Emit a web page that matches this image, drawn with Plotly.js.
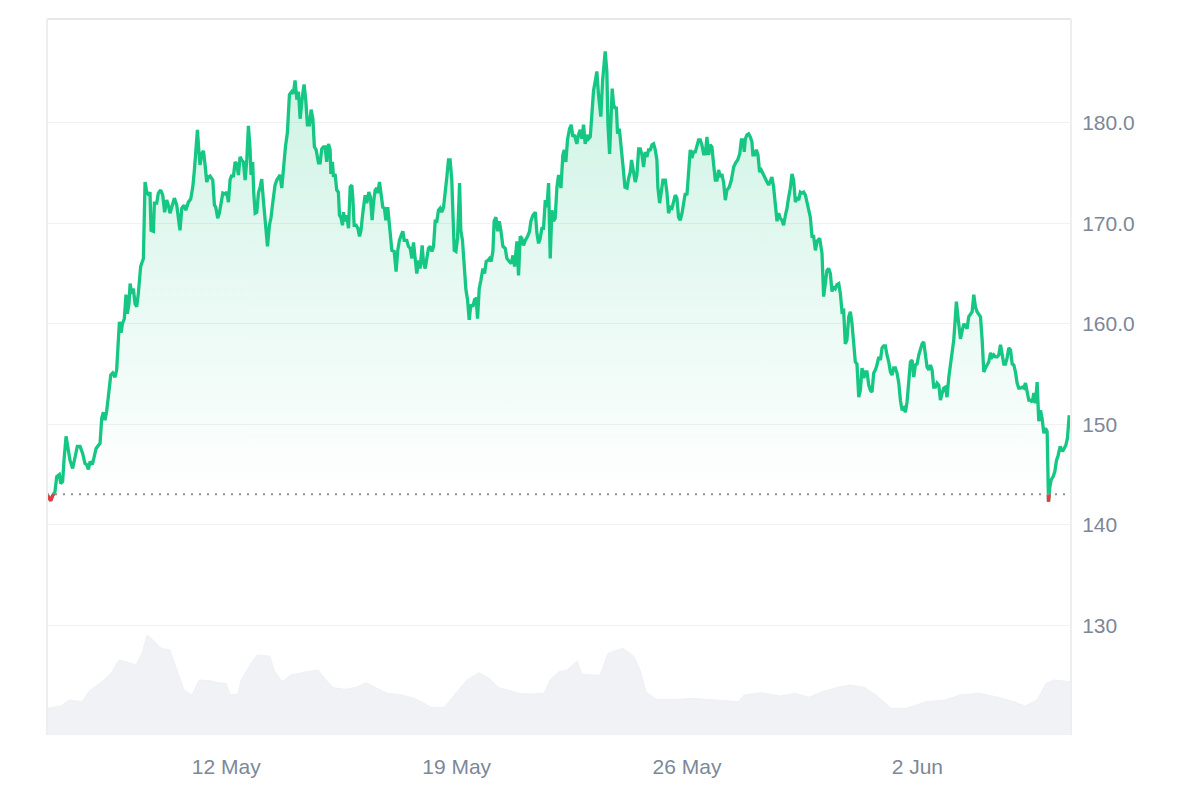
<!DOCTYPE html>
<html>
<head>
<meta charset="utf-8">
<script src="https://cdn.plot.ly/plotly-3.0.1.min.js"></script>
<style>
  html, body { margin: 0; padding: 0; background: #ffffff; }
  #chart { width: 1200px; height: 800px; }
</style>
</head>
<body>
<div id="chart"></div>
<script>
// ---- Data ----
const startTime = '2024-05-06T13:15:00Z';
const basePrice = 143.03;           // opening price (dotted reference line)
const priceRange = [119.09, 190.32];
const rangeHours = 746.8;

const yTickValues = [130, 140, 150, 160, 170, 180];
const yTickLabels = ['130', '140', '150', '160.0', '170.0', '180.0'];
const xTickDates  = ['2024-05-12', '2024-05-19', '2024-05-26', '2024-06-02'];
const xTickLabels = ['12 May', '19 May', '26 May', '2 Jun'];

// hours since startTime
const priceHours = [
  0, 1.5, 2.7, 4.1, 5.8, 7.1, 9.0, 10.0, 11.4, 12.4, 13.9, 15.6, 16.8, 18.7, 20.4, 22.1, 24.1, 26.0, 27.7, 28.9,
  30.2, 31.4, 33.1, 34.3, 35.8, 37.5, 38.7, 39.9, 41.1, 42.3, 43.5, 44.7, 46.5, 47.9, 49.6, 50.8, 52.0, 52.8, 54.0, 55.0,
  56.4, 57.6, 58.6, 59.8, 60.6, 61.8, 63.0, 64.2, 65.4, 66.6, 68.3, 70.3, 71.5, 72.7, 74.2, 75.1, 75.9, 77.6, 78.3, 80.0,
  81.2, 82.9, 84.4, 85.8, 87.3, 88.5, 89.7, 91.2, 92.9, 94.6, 95.8, 97.0, 98.3, 100.0, 101.2, 103.1, 104.8, 106.3, 107.5, 108.7,
  109.7, 110.7, 111.6, 112.8, 114.1, 115.3, 116.5, 117.7, 118.9, 120.9, 122.1, 123.1, 124.5, 125.7, 127.0, 128.2, 129.9, 131.1, 132.3, 133.5,
  134.7, 135.9, 137.2, 138.4, 139.6, 140.8, 142.0, 143.2, 144.5, 145.7, 146.9, 148.1, 148.8, 150.0, 150.8, 151.8, 153.0, 154.2, 155.4, 156.6,
  157.8, 159.1, 160.8, 162.2, 163.4, 164.6, 166.3, 167.6, 168.8, 170.0, 171.2, 172.4, 173.9, 175.3, 176.8, 178.5, 179.7, 180.9, 182.2, 183.4,
  184.6, 186.5, 187.5, 188.7, 189.9, 191.4, 192.6, 193.9, 195.0, 196.3, 198.0, 199.2, 200.4, 201.6, 202.8, 204.0, 205.3, 206.5, 207.0, 208.2,
  208.9, 210.1, 211.3, 212.5, 213.3, 214.3, 215.5, 216.2, 217.4, 218.6, 219.9, 221.1, 222.3, 223.0, 224.0, 225.4, 226.7, 227.9, 228.9, 230.3,
  232.0, 233.2, 234.7, 235.9, 237.1, 238.1, 239.3, 240.5, 241.2, 242.5, 243.4, 244.9, 246.1, 247.1, 248.5, 249.5, 250.7, 251.5, 253.2, 254.6,
  255.8, 257.0, 258.3, 259.5, 260.5, 262.4, 263.6, 264.9, 266.1, 267.3, 268.5, 269.7, 270.9, 272.1, 273.6, 274.6, 275.8, 277.0, 278.2, 279.4,
  280.7, 281.9, 283.1, 284.3, 285.5, 286.7, 287.9, 289.2, 290.4, 291.6, 292.8, 294.0, 295.2, 296.0, 297.0, 298.2, 299.4, 300.9, 301.8, 303.0,
  304.3, 305.5, 306.7, 307.9, 309.1, 310.6, 311.8, 313.0, 314.0, 315.2, 316.4, 317.9, 319.1, 320.3, 321.5, 322.7, 323.9, 325.2, 326.1, 327.4,
  328.6, 329.8, 331.0, 332.5, 334.2, 335.4, 337.1, 338.6, 339.8, 341.0, 342.7, 343.9, 345.1, 346.3, 347.5, 348.8, 350.5, 351.9, 352.9, 354.4,
  356.1, 357.3, 358.5, 359.7, 360.9, 362.1, 363.4, 364.6, 365.8, 367.0, 368.2, 369.4, 370.6, 371.9, 373.1, 374.8, 376.2, 377.2, 378.4, 379.6,
  381.1, 382.3, 383.5, 384.7, 386.4, 387.6, 388.9, 390.1, 391.3, 392.5, 393.7, 394.9, 396.2, 397.4, 398.6, 399.8, 401.0, 402.2, 403.9, 405.2,
  406.4, 407.1, 408.3, 409.1, 410.3, 411.5, 412.2, 413.2, 414.4, 415.2, 416.1, 417.4, 418.6, 420.0, 421.5, 423.0, 424.2, 425.4, 426.3, 427.8,
  429.0, 430.2, 431.5, 432.7, 433.9, 435.1, 436.3, 437.5, 438.7, 440.0, 441.2, 442.4, 443.6, 444.8, 445.5, 446.8, 448.0, 449.2, 450.9, 452.1,
  453.3, 454.5, 455.8, 457.0, 458.2, 459.4, 460.6, 461.8, 463.1, 464.3, 465.5, 466.7, 467.9, 469.1, 470.3, 471.6, 472.8, 474.0, 475.2, 476.4,
  477.6, 478.9, 480.1, 481.3, 482.5, 483.7, 484.9, 486.2, 487.4, 488.6, 489.8, 491.0, 492.2, 493.5, 494.7, 495.9, 497.6, 499.1, 500.8, 502.2,
  503.7, 505.2, 506.4, 507.6, 508.5, 509.3, 510.5, 511.7, 512.9, 514.1, 514.8, 516.1, 517.3, 518.5, 519.7, 520.9, 522.1, 523.8, 525.1, 526.3,
  527.5, 528.7, 529.9, 531.2, 532.4, 533.6, 534.8, 536.0, 537.2, 538.5, 539.7, 540.9, 542.1, 543.3, 544.5, 545.8, 547.0, 548.2, 549.4, 550.6,
  551.8, 553.1, 554.3, 555.5, 556.7, 557.9, 559.1, 560.4, 561.6, 563.5, 565.2, 566.4, 567.6, 568.8, 570.1, 571.3, 572.5, 573.7, 574.9, 576.1,
  577.4, 578.6, 579.8, 581.0, 582.2, 583.4, 584.7, 585.9, 587.1, 588.3, 589.5, 590.7, 592.0, 593.2, 594.4, 595.6, 596.8, 598.0, 599.3, 600.5,
  601.7, 602.9, 604.1, 605.3, 606.6, 607.8, 609.0, 610.2, 611.4, 612.6, 613.9, 615.1, 616.3, 617.5, 618.7, 619.9, 621.2, 622.4, 623.6, 624.8,
  626.0, 627.2, 628.5, 629.7, 630.9, 632.1, 633.3, 634.5, 635.8, 637.0, 638.2, 639.4, 640.6, 641.8, 643.1, 644.3, 645.5, 646.7, 647.9, 649.1,
  650.4, 651.6, 652.8, 654.0, 655.2, 656.4, 657.7, 658.9, 660.1, 661.3, 662.5, 663.2, 664.5, 666.2, 667.4, 668.6, 669.8, 671.0, 672.2, 673.5,
  674.7, 675.9, 677.1, 678.3, 679.5, 680.8, 682.0, 683.2, 684.4, 685.6, 686.8, 688.1, 689.3, 690.5, 691.7, 692.9, 694.1, 695.4, 696.6, 697.8,
  699.0, 700.2, 701.4, 702.7, 703.9, 705.1, 706.3, 707.5, 708.7, 710.0, 711.2, 712.4, 713.6, 714.8, 716.0, 717.3, 718.5, 719.7, 720.9, 722.1,
  723.3, 724.6, 725.8, 727.0, 728.2, 729.4, 730.4, 731.4, 732.4, 733.8, 735.0, 736.2, 737.4, 738.9, 740.6, 741.8, 743.0, 744.2, 745.5
];

// USD
const priceUsd = [
  143.03, 142.6, 142.4, 142.9, 143.3, 144.8, 145.0, 144.1, 144.3, 146.4, 148.8, 147.4, 146.4, 145.6, 146.8, 147.8, 147.8, 147.1, 146.1, 146.0,
  145.5, 146.3, 146.0, 146.8, 147.6, 147.9, 148.1, 150.6, 151.2, 150.4, 151.3, 152.7, 154.9, 155.1, 154.7, 155.4, 158.4, 160.2, 159.1, 160.0,
  160.5, 162.9, 161.0, 162.0, 164.0, 163.0, 163.5, 162.0, 161.7, 163.0, 165.7, 166.5, 174.1, 173.1, 172.8, 173.1, 169.3, 169.2, 172.0, 172.0,
  173.0, 173.3, 172.8, 171.1, 172.3, 171.8, 171.0, 171.6, 172.5, 171.8, 170.8, 169.3, 171.5, 171.8, 171.3, 172.1, 172.4, 173.6, 175.3, 178.3,
  179.3, 177.3, 175.8, 176.9, 177.2, 175.8, 174.1, 174.6, 174.7, 174.3, 171.8, 171.6, 170.5, 171.0, 172.1, 173.0, 172.9, 173.1, 172.1, 174.3,
  174.8, 174.6, 176.1, 175.9, 174.8, 176.6, 176.3, 176.1, 174.3, 176.3, 179.7, 177.4, 174.8, 176.1, 173.0, 171.0, 171.1, 173.0, 173.6, 174.4,
  172.3, 170.6, 167.7, 169.8, 170.6, 172.0, 173.8, 174.3, 174.6, 174.8, 173.5, 175.6, 177.6, 179.0, 182.8, 183.1, 182.9, 184.2, 182.3, 183.1,
  180.4, 182.9, 183.8, 182.3, 179.8, 179.8, 181.3, 180.4, 177.6, 177.3, 176.0, 176.0, 177.4, 177.6, 177.6, 176.1, 177.9, 177.3, 174.9, 176.1,
  174.6, 174.9, 173.3, 173.1, 170.8, 170.6, 169.8, 171.1, 170.2, 170.8, 169.5, 173.6, 173.8, 172.6, 169.8, 169.8, 169.5, 168.7, 169.2, 171.0,
  172.8, 172.0, 173.1, 172.6, 170.3, 172.0, 173.3, 173.5, 173.0, 174.1, 173.0, 171.6, 171.5, 170.3, 171.6, 170.2, 169.0, 167.3, 167.2, 165.2,
  167.3, 168.3, 168.8, 169.2, 168.3, 168.3, 167.7, 167.5, 166.5, 168.1, 166.5, 165.0, 166.3, 165.5, 167.8, 166.1, 165.5, 166.3, 167.5, 167.7,
  167.2, 167.7, 170.2, 170.2, 171.3, 171.5, 171.1, 171.6, 172.8, 174.6, 176.3, 176.3, 174.3, 170.0, 167.3, 167.2, 168.5, 174.0, 169.3, 168.3,
  165.7, 163.4, 162.4, 160.4, 161.9, 161.7, 162.4, 162.5, 160.5, 163.5, 164.3, 165.5, 165.0, 166.2, 166.3, 166.5, 166.2, 167.2, 170.2, 170.6,
  169.2, 170.2, 169.3, 167.7, 167.5, 166.5, 166.2, 166.0, 166.8, 165.7, 168.2, 164.8, 168.7, 168.5, 167.8, 168.3, 168.7, 169.2, 170.2, 170.8,
  171.1, 169.0, 168.0, 168.5, 169.5, 169.5, 172.3, 171.6, 174.0, 166.5, 171.3, 170.2, 170.5, 173.6, 174.8, 173.5, 176.8, 177.3, 176.1, 178.3,
  179.4, 179.8, 178.6, 178.8, 177.9, 178.8, 179.3, 178.4, 179.8, 177.9, 178.8, 178.4, 178.6, 180.8, 183.2, 184.1, 185.1, 182.8, 180.6, 184.2,
  186.4, 187.1, 185.1, 179.8, 176.9, 180.6, 183.4, 181.8, 181.4, 181.6, 178.9, 179.4, 177.3, 175.8, 173.6, 173.5, 174.5, 175.1, 176.3, 175.0,
  174.1, 174.8, 177.4, 177.4, 176.8, 175.6, 177.1, 176.6, 177.3, 177.3, 177.8, 177.9, 177.3, 176.3, 173.6, 172.0, 173.3, 174.3, 174.3, 173.1,
  171.0, 171.6, 171.5, 172.3, 172.8, 172.5, 170.6, 170.3, 171.0, 172.0, 173.0, 172.8, 175.5, 177.3, 176.5, 177.1, 177.1, 177.9, 178.3, 178.3,
  177.8, 176.9, 176.9, 178.6, 176.8, 177.8, 177.6, 175.8, 174.3, 174.3, 175.3, 174.6, 174.9, 174.0, 172.3, 173.3, 173.6, 174.3, 175.6, 176.0,
  176.3, 176.9, 178.3, 178.3, 177.1, 178.4, 178.8, 178.9, 178.6, 178.1, 176.8, 176.8, 177.3, 176.8, 175.1, 175.3, 174.9, 174.5, 174.1, 173.8,
  174.3, 174.6, 173.6, 171.6, 170.2, 171.0, 170.5, 170.3, 169.8, 170.8, 171.5, 172.6, 173.5, 174.9, 174.3, 172.1, 172.6, 172.3, 173.1, 173.0,
  173.1, 172.8, 172.0, 171.1, 170.6, 168.7, 168.7, 167.3, 168.2, 168.5, 167.0, 162.7, 164.0, 165.3, 165.5, 165.0, 163.2, 163.7, 163.5, 163.9,
  164.0, 163.0, 161.2, 161.3, 158.0, 158.4, 160.7, 161.2, 160.0, 158.0, 156.2, 156.0, 152.7, 153.4, 155.6, 154.6, 155.2, 155.2, 153.9, 153.4,
  153.2, 155.1, 155.4, 155.9, 156.7, 156.4, 157.6, 157.8, 157.8, 156.9, 156.2, 155.2, 154.9, 155.6, 155.6, 155.1, 154.1, 152.4, 151.4, 151.6,
  151.2, 152.2, 154.2, 156.2, 156.4, 154.7, 155.9, 156.0, 156.9, 157.6, 158.0, 158.2, 157.2, 155.7, 155.4, 155.9, 155.4, 153.7, 153.7, 154.1,
  153.9, 152.4, 153.1, 153.6, 153.7, 152.7, 154.7, 155.9, 156.7, 158.4, 160.7, 162.2, 160.5, 158.5, 159.3, 160.0, 159.8, 159.5, 160.7, 160.9,
  161.2, 162.9, 161.7, 161.2, 161.0, 160.7, 158.4, 155.2, 155.6, 155.9, 156.2, 157.1, 156.7, 156.9, 156.7, 156.7, 156.9, 157.9, 156.7, 156.0,
  156.0, 156.6, 157.6, 157.4, 156.0, 155.9, 155.2, 154.1, 153.6, 153.6, 153.7, 153.6, 154.1, 153.1, 152.4, 152.4, 152.2, 153.1, 152.1, 154.2,
  150.3, 151.4, 150.5, 149.1, 149.6, 149.3, 142.3, 143.8, 144.5, 144.8, 145.3, 146.4, 146.9, 147.8, 147.3, 147.6, 147.9, 148.6, 150.9
];

// trading volume (relative level, hours since startTime)
const volumeHours = [
  0, 10.2, 16.0, 25.5, 31.4, 38.7, 46.7, 52.5, 57.6, 64.9, 69.3, 72.9, 77.3, 83.2, 89.7, 95.6, 99.9, 105.8, 110.9, 118.2,
  124.7, 130.6, 133.5, 139.3, 141.5, 148.8, 153.2, 162.7, 165.6, 171.4, 178.0, 189.6, 197.7, 203.5, 208.6, 217.4, 225.4, 232.7, 240.7, 248.0,
  258.9, 267.7, 272.8, 280.1, 289.6, 298.3, 306.3, 315.1, 322.4, 329.0, 337.7, 344.3, 353.0, 362.5, 366.9, 373.5, 379.3, 386.6, 390.2, 397.5,
  403.4, 409.2, 420.1, 428.2, 432.5, 436.9, 444.2, 459.5, 470.5, 487.2, 504.0, 508.4, 520.8, 534.7, 545.6, 555.8, 565.3, 577.0, 585.0, 595.9,
  604.7, 615.6, 626.6, 641.2, 655.0, 666.0, 679.8, 693.7, 705.3, 713.4, 722.1, 728.7, 734.5, 746.8
];
const volumeLevel = [
  26.7, 29, 35, 33.3, 45, 51.7, 61.7, 75, 73.3, 70, 81.7, 100, 95, 86.7, 85, 61.7, 45, 40, 55, 54.3,
  52.3, 51.7, 40, 41, 55, 71.7, 80, 79, 65, 53.3, 60, 63.3, 65, 55, 47.3, 45.7, 47.7, 52.3, 46.7, 41.7,
  40, 36.7, 33.3, 27.7, 27.7, 41.7, 55, 62.3, 56.7, 47.7, 44.3, 41.7, 41, 41.7, 55, 63.3, 65, 74, 61, 60,
  60, 81.7, 86.7, 78.3, 65, 43.3, 35.7, 35.7, 36.7, 35, 33.3, 40, 42.3, 39, 41.7, 37.7, 43.3, 47.7, 50, 47.7,
  40, 26.7, 26.7, 33.3, 35, 40, 41.7, 37.7, 33.3, 29, 35, 51.7, 55, 53.3
];

// ---- Rendering ----
const startMs = Date.parse(startTime);
function toDate(h) {
  return new Date(startMs + h * 3600000).toISOString().slice(0, 19).replace('T', ' ');
}
const px = priceHours.map(toDate);
const vx = volumeHours.map(toDate);
const xStart = toDate(0), xEnd = toDate(rangeHours);

const green = '#16c784';
const red = '#ea3943';
const font = '"Liberation Sans", Arial, Helvetica, sans-serif';
const labelColor = '#7d8799';

const traces = [
  { // volume
    x: vx, y: volumeLevel, xaxis: 'x', yaxis: 'y2', type: 'scatter', mode: 'lines',
    line: { width: 1, color: '#eef1f5' }, fill: 'tozeroy', fillcolor: '#f0f2f6',
    hoverinfo: 'skip', showlegend: false
  },
  { // baseline for fill
    x: [xStart, xEnd], y: [basePrice, basePrice], xaxis: 'x', yaxis: 'y', type: 'scatter', mode: 'lines',
    line: { width: 0, color: 'rgba(0,0,0,0)' }, hoverinfo: 'skip', showlegend: false
  },
  { // price (green)
    x: px, y: priceUsd, xaxis: 'x', yaxis: 'y', type: 'scatter', mode: 'lines',
    line: { width: 3.3, color: green }, fill: 'tonexty',
    fillgradient: {
      type: 'vertical', start: basePrice, stop: 187.5,
      colorscale: [[0, 'rgba(22,199,132,0.0)'], [1, 'rgba(22,199,132,0.22)']]
    },
    showlegend: false
  },
  { // price below opening (red), clipped to subplot below the baseline
    x: px, y: priceUsd, xaxis: 'x', yaxis: 'y3', type: 'scatter', mode: 'lines',
    line: { width: 3.3, color: red }, hoverinfo: 'skip', showlegend: false
  }
];

const frac = (basePrice - priceRange[0]) / (priceRange[1] - priceRange[0]);

const layout = {
  width: 1200, height: 800,
  margin: { l: 47, r: 129, t: 19, b: 65 },
  paper_bgcolor: '#ffffff', plot_bgcolor: 'rgba(0,0,0,0)',
  font: { family: font, size: 21, color: labelColor },
  showlegend: false,
  xaxis: {
    type: 'date', range: [xStart, xEnd], anchor: 'y',
    tickvals: xTickDates, ticktext: xTickLabels,
    showgrid: false, zeroline: false, showline: false,
    ticks: 'outside', ticklen: 13, tickcolor: 'rgba(0,0,0,0)',
    tickfont: { family: font, size: 21, color: labelColor }
  },
  yaxis: {
    range: priceRange, side: 'right', domain: [0, 1], anchor: 'x',
    tickvals: yTickValues, ticktext: yTickLabels,
    showgrid: true, gridcolor: '#eff1f4', gridwidth: 1.3,
    zeroline: false, showline: false,
    ticks: 'outside', ticklen: 6, tickcolor: 'rgba(0,0,0,0)',
    tickfont: { family: font, size: 21, color: labelColor }
  },
  yaxis2: {
    overlaying: 'y', range: [0, 716], showticklabels: false, showgrid: false, zeroline: false, showline: false, ticks: ''
  },
  yaxis3: {
    domain: [0, frac], range: [priceRange[0], basePrice], anchor: 'x',
    showticklabels: false, showgrid: false, zeroline: false, showline: false, ticks: ''
  },
  shapes: [
    { type: 'line', xref: 'x', yref: 'y', x0: xStart, x1: xEnd, y0: basePrice, y1: basePrice,
      line: { color: '#8f949a', width: 2, dash: '2px,6px' }, layer: 'above' },
    { type: 'line', xref: 'paper', yref: 'paper', x0: 0, x1: 1, y0: 1, y1: 1,
      line: { color: '#e6e8eb', width: 2 } },
    { type: 'line', xref: 'paper', yref: 'paper', x0: 0, x1: 0, y0: 0, y1: 1,
      line: { color: '#eceef1', width: 2 } },
    { type: 'line', xref: 'paper', yref: 'paper', x0: 1, x1: 1, y0: 0, y1: 1,
      line: { color: '#eceef1', width: 2 } }
  ]
};

Plotly.newPlot('chart', traces, layout, { displayModeBar: false, staticPlot: true });
</script>
</body>
</html>
